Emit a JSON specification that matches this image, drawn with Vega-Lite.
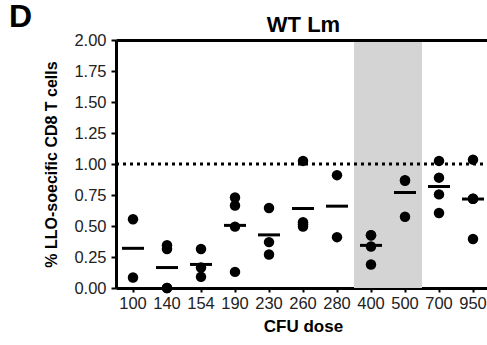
{
  "$schema": "https://vega.github.io/schema/vega-lite/v6.json",
  "width": 374,
  "height": 248,
  "autosize": "none",
  "padding": {"left": 116, "top": 40, "right": 0, "bottom": 57},
  "background": "white",
  "config": {"view": {"stroke": null}, "font": "Liberation Sans"},
  "title": {"text": "D", "anchor": "start", "frame": "group", "fontSize": 32, "fontWeight": "bold", "color": "black", "dx": -107, "dy": 25},
  "datasets": {
    "points": [
      {"dose": "100", "value": 0.555}, {"dose": "100", "value": 0.085},
      {"dose": "140", "value": 0.345}, {"dose": "140", "value": 0.315}, {"dose": "140", "value": 0.0}, {"dose": "140", "value": 0.0},
      {"dose": "154", "value": 0.315}, {"dose": "154", "value": 0.165}, {"dose": "154", "value": 0.09},
      {"dose": "190", "value": 0.73}, {"dose": "190", "value": 0.665}, {"dose": "190", "value": 0.495}, {"dose": "190", "value": 0.13},
      {"dose": "230", "value": 0.645}, {"dose": "230", "value": 0.37}, {"dose": "230", "value": 0.27},
      {"dose": "260", "value": 1.025}, {"dose": "260", "value": 0.53}, {"dose": "260", "value": 0.515}, {"dose": "260", "value": 0.495},
      {"dose": "280", "value": 0.91}, {"dose": "280", "value": 0.41},
      {"dose": "400", "value": 0.425}, {"dose": "400", "value": 0.425}, {"dose": "400", "value": 0.335}, {"dose": "400", "value": 0.19},
      {"dose": "500", "value": 0.87}, {"dose": "500", "value": 0.865}, {"dose": "500", "value": 0.575},
      {"dose": "700", "value": 1.025}, {"dose": "700", "value": 0.89}, {"dose": "700", "value": 0.755}, {"dose": "700", "value": 0.605},
      {"dose": "950", "value": 1.035}, {"dose": "950", "value": 0.72}, {"dose": "950", "value": 0.72}, {"dose": "950", "value": 0.395}
    ],
    "shade": [{"dose": "400"}, {"dose": "500"}],
    "ref": [{"level": 1}]
  },
  "resolve": {"axis": {"x": "independent", "y": "independent"}},
  "layer": [
    {
      "data": {"name": "shade"},
      "mark": {"type": "rect", "color": "#d4d4d4"},
      "encoding": {
        "x": {"field": "dose", "type": "ordinal", "sort": ["100","140","154","190","230","260","280","400","500","700","950"],
              "scale": {"type": "band", "paddingInner": 0, "paddingOuter": 0},
              "axis": {"orient": "top", "title": "WT Lm", "labels": false, "ticks": false, "domainWidth": 3, "domainColor": "black", "titleFontSize": 22, "titleFontWeight": "bold", "titleColor": "black", "titlePadding": 4, "grid": false}},
        "y": {"datum": 0, "type": "quantitative", "scale": {"domain": [0, 2], "nice": false},
              "axis": {"title": "% LLO-soecific  CD8  T cells", "values": [0, 0.25, 0.5, 0.75, 1, 1.25, 1.5, 1.75, 2], "format": ".2f",
                       "labelOverlap": false, "labelFontSize": 16.5, "labelColor": "#222", "labelPadding": 5, "domainWidth": 3, "domainColor": "black",
                       "tickColor": "black", "tickWidth": 2, "tickSize": 5, "titleFontSize": 16, "titleFontWeight": "bold", "titleColor": "black",
                       "titlePadding": 14, "grid": false}},
        "y2": {"datum": 2}
      }
    },
    {
      "data": {"name": "ref"},
      "mark": {"type": "rule", "color": "black", "strokeWidth": 3, "strokeDash": [3, 4]},
      "encoding": {"y": {"field": "level", "type": "quantitative", "axis": null}}
    },
    {
      "data": {"name": "points"},
      "mark": {"type": "point", "filled": true, "color": "black", "opacity": 1, "size": 110},
      "encoding": {
        "x": {"field": "dose", "type": "ordinal", "sort": ["100","140","154","190","230","260","280","400","500","700","950"],
              "axis": {"orient": "bottom", "title": "CFU dose", "labelAngle": 0, "labelFontSize": 16.5, "labelColor": "#222", "labelPadding": 3,
                       "domainWidth": 3, "domainColor": "black", "tickColor": "black", "tickWidth": 2, "tickSize": 4,
                       "titleFontSize": 17, "titleFontWeight": "bold", "titleColor": "black", "titlePadding": 7, "grid": false}},
        "y": {"field": "value", "type": "quantitative", "axis": null}
      }
    },
    {
      "data": {"name": "points"},
      "mark": {"type": "tick", "orient": "horizontal", "color": "black", "size": 22, "thickness": 3},
      "encoding": {
        "x": {"field": "dose", "type": "ordinal", "sort": ["100","140","154","190","230","260","280","400","500","700","950"], "axis": null},
        "y": {"aggregate": "mean", "field": "value", "type": "quantitative", "axis": null}
      }
    }
  ]
}
